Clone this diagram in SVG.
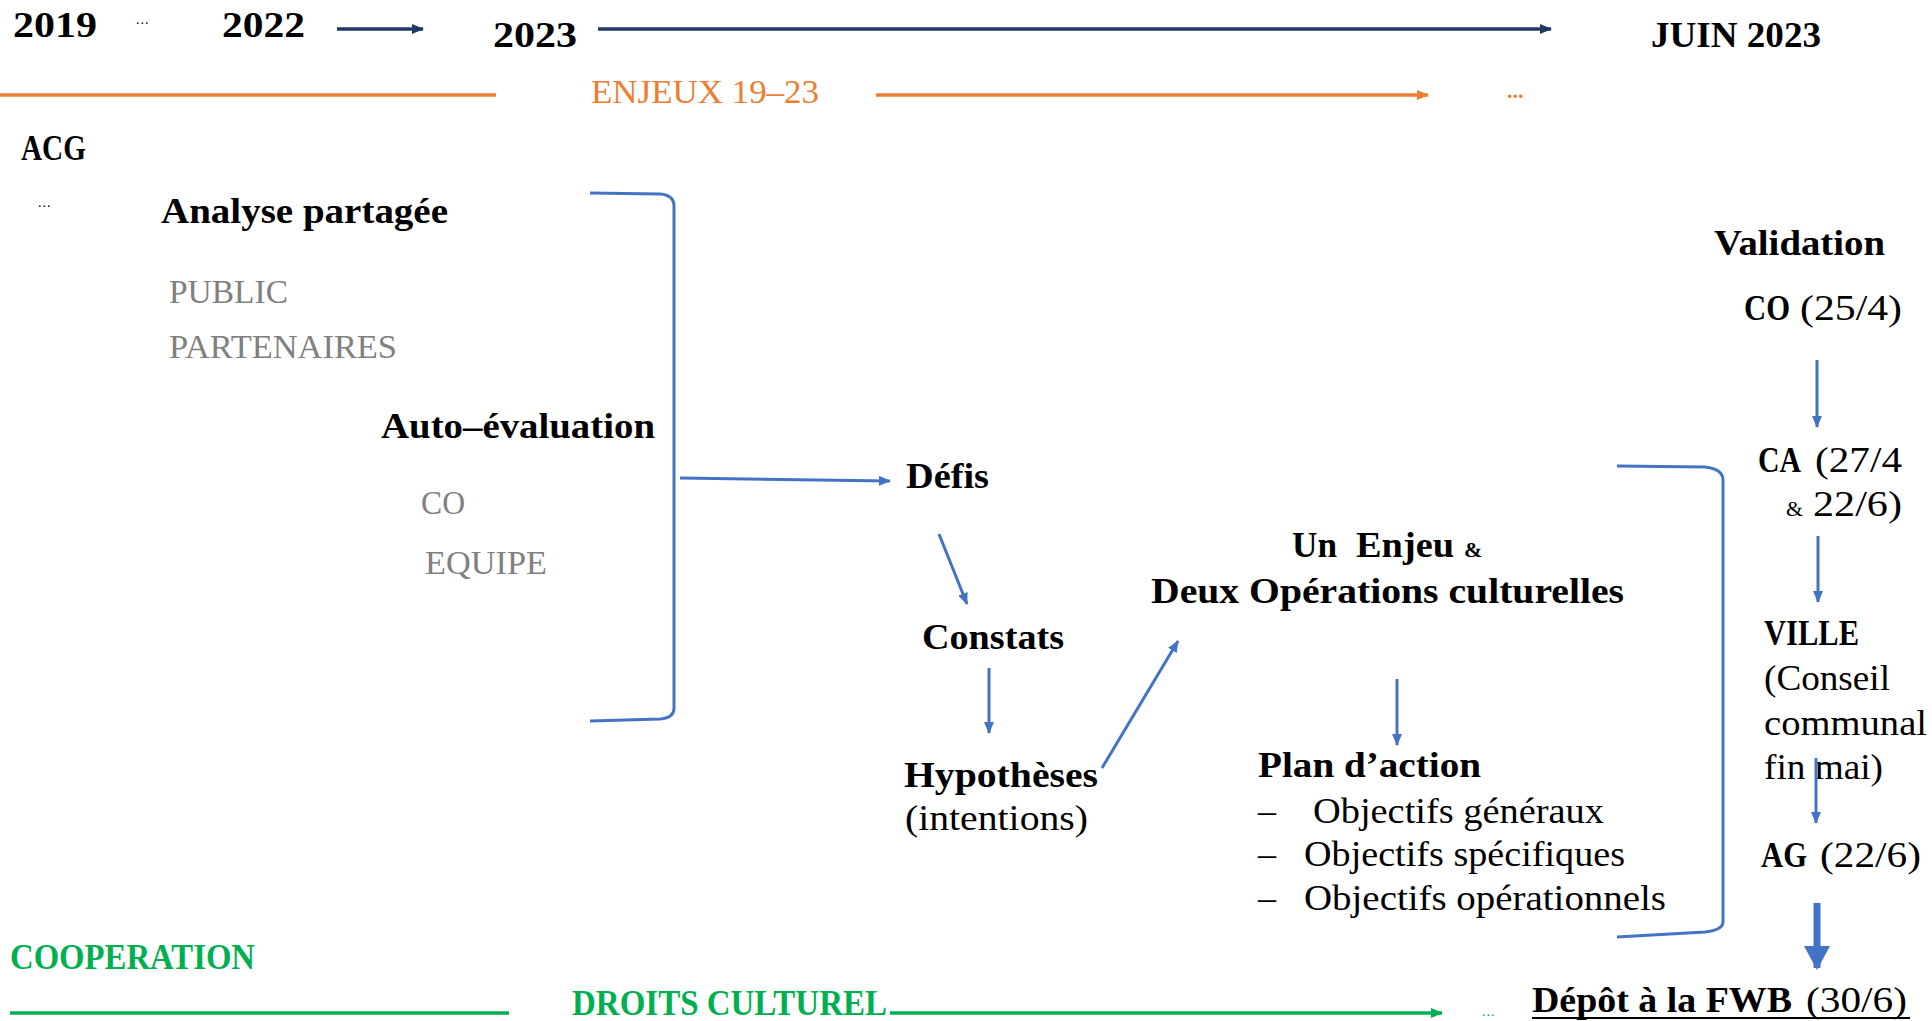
<svg xmlns="http://www.w3.org/2000/svg" width="1932" height="1021" viewBox="0 0 1932 1021">
<style>
text{font-family:"Liberation Serif","Times New Roman",serif;fill:#000}
.b{font-weight:bold;font-size:36px}
.r{font-size:36px}
.gr{font-size:33px;fill:#808080}
.or{font-size:34px;fill:#ED7D31}
.gn{font-weight:bold;font-size:35px;fill:#00B050}
.amp{font-weight:bold;font-size:22px}
.dots{font-size:14px;letter-spacing:1px}
.blue{stroke:#4472C4;stroke-width:3;fill:none}
.navy{stroke:#203864;stroke-width:3.5;fill:none}
.orl{stroke:#ED7D31;stroke-width:3.5;fill:none}
.gl{stroke:#00B050;stroke-width:3.5;fill:none}
</style>
<defs>
<marker id="ab" markerUnits="userSpaceOnUse" markerWidth="12" markerHeight="10" refX="11" refY="5" orient="auto"><path d="M0,0 L12,5 L0,10 z" fill="#4472C4"/></marker>
<marker id="an" markerUnits="userSpaceOnUse" markerWidth="12" markerHeight="10" refX="11" refY="5" orient="auto"><path d="M0,0 L12,5 L0,10 z" fill="#203864"/></marker>
<marker id="ao" markerUnits="userSpaceOnUse" markerWidth="12" markerHeight="10" refX="11" refY="5" orient="auto"><path d="M0,0 L12,5 L0,10 z" fill="#ED7D31"/></marker>
<marker id="ag" markerUnits="userSpaceOnUse" markerWidth="12" markerHeight="10" refX="11" refY="5" orient="auto"><path d="M0,0 L12,5 L0,10 z" fill="#00B050"/></marker>
<marker id="abig" markerUnits="userSpaceOnUse" markerWidth="24" markerHeight="26" refX="22" refY="13" orient="auto"><path d="M0,0 L24,13 L0,26 z" fill="#4472C4"/></marker>
</defs>

<g id="timeline">
<text class="b" x="13" y="37" textLength="84" lengthAdjust="spacingAndGlyphs">2019</text>
<text class="dots" x="136" y="24">...</text>
<text class="b" x="222" y="37" textLength="83" lengthAdjust="spacingAndGlyphs">2022</text>
<text class="b" x="493" y="47" textLength="84" lengthAdjust="spacingAndGlyphs">2023</text>
<text class="b" x="1651" y="47" textLength="170" lengthAdjust="spacingAndGlyphs">JUIN 2023</text>
<text class="or" x="591" y="103" textLength="228" lengthAdjust="spacingAndGlyphs">ENJEUX 19–23</text>
<text x="1507" y="98" style="font-size:22px;font-weight:bold;fill:#ED7D31">...</text>
</g>

<g id="acg">
<text class="b" x="21" y="160" textLength="65" lengthAdjust="spacingAndGlyphs">ACG</text>
<text class="dots" x="38" y="207">...</text>
</g>

<g id="analyse">
<text class="b" x="161" y="223" textLength="287" lengthAdjust="spacingAndGlyphs">Analyse partagée</text>
<text class="gr" x="169" y="303" textLength="119" lengthAdjust="spacingAndGlyphs">PUBLIC</text>
<text class="gr" x="169" y="358" textLength="228" lengthAdjust="spacingAndGlyphs">PARTENAIRES</text>
</g>

<g id="autoeval">
<text class="b" x="381" y="438" textLength="274" lengthAdjust="spacingAndGlyphs">Auto–évaluation</text>
<text class="gr" x="421" y="514" textLength="44" lengthAdjust="spacingAndGlyphs">CO</text>
<text class="gr" x="425" y="574" textLength="122" lengthAdjust="spacingAndGlyphs">EQUIPE</text>
</g>

<g id="defis"><text class="b" x="906" y="488" textLength="83" lengthAdjust="spacingAndGlyphs">Défis</text></g>
<g id="constats"><text class="b" x="922" y="649" textLength="142" lengthAdjust="spacingAndGlyphs">Constats</text></g>
<g id="hypotheses">
<text class="b" x="904" y="787" textLength="194" lengthAdjust="spacingAndGlyphs">Hypothèses</text>
<text class="r" x="905" y="830" textLength="183" lengthAdjust="spacingAndGlyphs">(intentions)</text>
</g>

<g id="enjeu">
<text class="b" x="1292" y="557" textLength="45" lengthAdjust="spacingAndGlyphs">Un</text>
<text class="b" x="1356" y="557" textLength="98" lengthAdjust="spacingAndGlyphs">Enjeu</text>
<text class="amp" x="1464" y="557">&amp;</text>
<text class="b" x="1151" y="603" textLength="473" lengthAdjust="spacingAndGlyphs">Deux Opérations culturelles</text>
</g>

<g id="plan">
<text class="b" x="1258" y="777" textLength="223" lengthAdjust="spacingAndGlyphs">Plan d’action</text>
<text class="r" x="1258" y="823">–</text>
<text class="r" x="1313" y="823" textLength="291" lengthAdjust="spacingAndGlyphs">Objectifs généraux</text>
<text class="r" x="1258" y="866">–</text>
<text class="r" x="1304" y="866" textLength="321" lengthAdjust="spacingAndGlyphs">Objectifs spécifiques</text>
<text class="r" x="1258" y="910">–</text>
<text class="r" x="1304" y="910" textLength="362" lengthAdjust="spacingAndGlyphs">Objectifs opérationnels</text>
</g>

<g id="validation"><text class="b" x="1714" y="255" textLength="171" lengthAdjust="spacingAndGlyphs">Validation</text></g>
<g id="co">
<text class="b" x="1744" y="320" textLength="46" lengthAdjust="spacingAndGlyphs">CO</text>
<text class="r" x="1800" y="320" textLength="102" lengthAdjust="spacingAndGlyphs">(25/4)</text>
</g>
<g id="ca">
<text class="b" x="1758" y="472" textLength="43" lengthAdjust="spacingAndGlyphs">CA</text>
<text class="r" x="1815" y="472" textLength="87" lengthAdjust="spacingAndGlyphs">(27/4</text>
<text x="1786" y="516" style="font-size:22px">&amp;</text>
<text class="r" x="1813" y="516" textLength="89" lengthAdjust="spacingAndGlyphs">22/6)</text>
</g>
<g id="ville">
<text class="b" x="1764" y="645" textLength="95" lengthAdjust="spacingAndGlyphs">VILLE</text>
<text class="r" x="1764" y="690" textLength="126" lengthAdjust="spacingAndGlyphs">(Conseil</text>
<text class="r" x="1764" y="735" textLength="163" lengthAdjust="spacingAndGlyphs">communal</text>
<text class="r" x="1764" y="779" textLength="119" lengthAdjust="spacingAndGlyphs">fin mai)</text>
</g>
<g id="ag-node">
<text class="b" x="1761" y="867" textLength="46" lengthAdjust="spacingAndGlyphs">AG</text>
<text class="r" x="1820" y="867" textLength="101" lengthAdjust="spacingAndGlyphs">(22/6)</text>
</g>

<g id="cooperation">
<text class="gn" x="10" y="969" textLength="245" lengthAdjust="spacingAndGlyphs">COOPERATION</text>
<text class="gn" x="572" y="1015" textLength="315" lengthAdjust="spacingAndGlyphs">DROITS CULTUREL</text>
<text x="1482" y="1016" style="font-size:14px;fill:#00B050;letter-spacing:1px">...</text>
</g>

<g id="depot">
<text class="b" x="1532" y="1012" textLength="260" lengthAdjust="spacingAndGlyphs">Dépôt à la FWB</text>
<text class="r" x="1806" y="1012" textLength="101" lengthAdjust="spacingAndGlyphs">(30/6)</text>
<line x1="1532" y1="1018" x2="1910" y2="1018" stroke="#000" stroke-width="2"/>
</g>

<g id="connectors">
<line class="navy" x1="337" y1="29" x2="423" y2="29" marker-end="url(#an)"/>
<line class="navy" x1="598" y1="29" x2="1551" y2="29" marker-end="url(#an)"/>
<line class="orl" x1="0" y1="95" x2="496" y2="95"/>
<line class="orl" x1="876" y1="95" x2="1428" y2="95" marker-end="url(#ao)"/>
<line class="gl" x1="10" y1="1013" x2="509" y2="1013"/>
<line class="gl" x1="890" y1="1013" x2="1442" y2="1013" marker-end="url(#ag)"/>
<path class="blue" d="M590,193 L660,194 Q674,195 674,206 L674,708 Q674,718 660,719 L590,721"/>
<path class="blue" d="M1617,466 L1705,467 Q1723,469 1723,480 L1723,922 Q1723,930 1705,932 L1617,937"/>
<line class="blue" x1="680" y1="478" x2="890" y2="481" marker-end="url(#ab)"/>
<line class="blue" x1="939" y1="534" x2="967" y2="604" marker-end="url(#ab)"/>
<line class="blue" x1="989" y1="668" x2="989" y2="733" marker-end="url(#ab)"/>
<line class="blue" x1="1102" y1="768" x2="1178" y2="641" marker-end="url(#ab)"/>
<line class="blue" x1="1397" y1="679" x2="1397" y2="745" marker-end="url(#ab)"/>
<line class="blue" x1="1817" y1="360" x2="1817" y2="427" marker-end="url(#ab)"/>
<line class="blue" x1="1818" y1="536" x2="1818" y2="602" marker-end="url(#ab)"/>
<line class="blue" x1="1816" y1="758" x2="1816" y2="823" marker-end="url(#ab)"/>
<line x1="1817" y1="903" x2="1817" y2="968" stroke="#4472C4" stroke-width="7" marker-end="url(#abig)"/>
</g>
</svg>
